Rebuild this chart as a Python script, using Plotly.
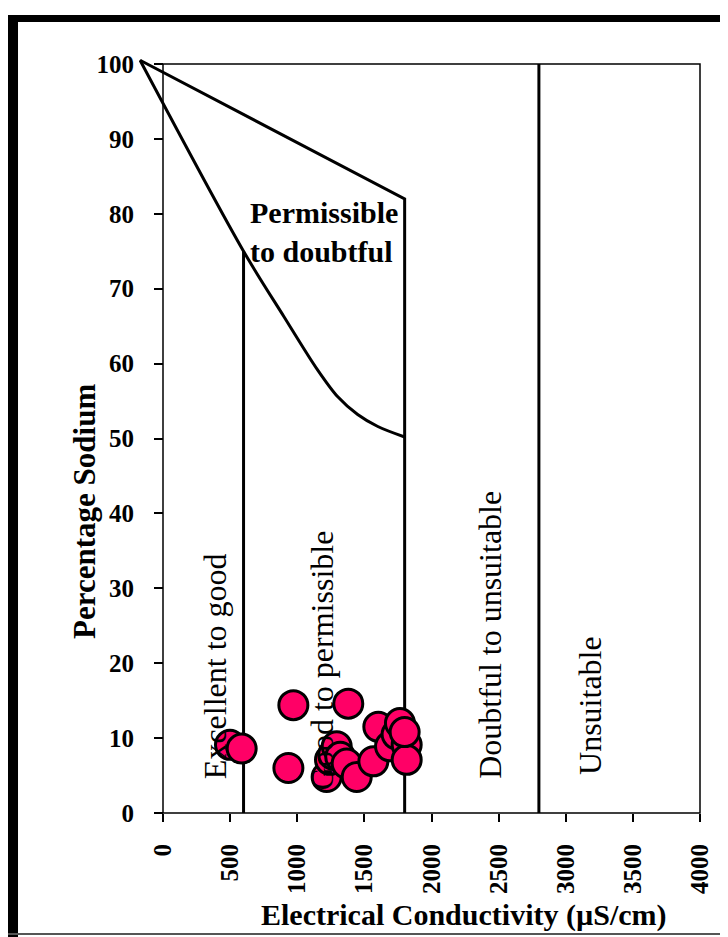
import plotly.graph_objects as go

# ---- data ----
ec_values = [499, 586, 934, 971, 1219, 1244, 1268, 1294, 1320, 1368, 1380, 1443,
             1567, 1604, 1691, 1740, 1765, 1815, 1815, 1800]
na_percent = [9.1, 8.6, 6.0, 14.4, 4.8, 7.1, 7.8, 8.9, 7.5, 6.6, 14.6, 4.8,
              6.9, 11.5, 8.9, 10.5, 12.0, 9.1, 7.1, 10.8]

upper_x = [-171, 1800, 1800]
upper_y = [100.5, 82, 0]
lower_x = [-171, 600, 900, 1150, 1300, 1450, 1600, 1800]
lower_y = [100.5, 75, 66.3, 59.2, 55.6, 53.2, 51.6, 50.2]
v600_x = [600, 600]
v600_y = [75, 0]
v2800_x = [2800, 2800]
v2800_y = [0, 100]

x_ticks = [0, 500, 1000, 1500, 2000, 2500, 3000, 3500, 4000]
y_ticks = [0, 10, 20, 30, 40, 50, 60, 70, 80, 90, 100]

region_labels = ["Excellent to good", "Good to permissible", "Doubtful to unsuitable", "Unsuitable"]
region_x = [387, 1184, 2436, 3181]
region_y = [19.6, 20.4, 23.8, 14.3]

SERIF = "Liberation Serif"

fig = go.Figure()
line_style = dict(color="black", width=3)
fig.add_trace(go.Scatter(x=upper_x, y=upper_y, mode="lines", line=line_style, hoverinfo="skip"))
fig.add_trace(go.Scatter(x=lower_x, y=lower_y, mode="lines",
                         line=dict(color="black", width=3, shape="spline", smoothing=0.9),
                         hoverinfo="skip"))
fig.add_trace(go.Scatter(x=v600_x, y=v600_y, mode="lines", line=line_style, hoverinfo="skip"))
fig.add_trace(go.Scatter(x=v2800_x, y=v2800_y, mode="lines", line=line_style, hoverinfo="skip"))

fig.add_trace(go.Scatter(
    x=ec_values, y=na_percent, mode="markers",
    marker=dict(size=29, color="#FF0066", line=dict(color="black", width=3)),
    cliponaxis=False,
))

# plot-area frame
fig.add_shape(type="rect", xref="x", yref="y", x0=0, x1=4000, y0=0, y1=100,
              line=dict(color="black", width=1.5), layer="below")

# region labels
for txt, xx, yy in zip(region_labels, region_x, region_y):
    fig.add_annotation(x=xx, y=yy, xref="x", yref="y", text=txt, textangle=-90,
                       showarrow=False, xanchor="center", yanchor="middle",
                       font=dict(family=SERIF, size=32, color="black"))

fig.add_annotation(x=633, y=77.6, xref="x", yref="y",
                   text="<b>Permissible<br>to doubtful</b>", showarrow=False,
                   xanchor="left", yanchor="middle", align="left",
                   font=dict(family=SERIF, size=30, color="black"))

# axis titles
fig.add_annotation(x=0.578, y=-0.129, xref="paper", yref="paper",
                   text="<b>Electrical Conductivity (µS/cm)</b>", showarrow=False,
                   xanchor="center", yanchor="middle",
                   font=dict(family=SERIF, size=30, color="black"))
fig.add_annotation(x=-0.098, y=0.402, xref="paper", yref="paper",
                   text="<b>Percentage Sodium</b>", showarrow=False, textangle=-90,
                   xanchor="center", yanchor="middle",
                   font=dict(family=SERIF, size=31, color="black"))

# picture border decorations
fig.add_shape(type="rect", xref="paper", yref="paper", x0=-0.2345, x1=-0.2149,
              y0=-0.16, y1=1.0539, fillcolor="black", line=dict(width=0))
fig.add_shape(type="rect", xref="paper", yref="paper", x0=-0.2345, x1=1.05,
              y0=1.0447, y1=1.0539, fillcolor="black", line=dict(width=0))
fig.add_shape(type="line", xref="paper", yref="paper", x0=-0.2345, x1=1.05,
              y0=-0.1537, y1=-0.1537, line=dict(color="#555555", width=2))

tick_font = dict(family=SERIF, size=25, color="black")
fig.update_layout(
    width=720, height=929,
    margin=dict(l=131, r=26, t=48, b=120),
    paper_bgcolor="white", plot_bgcolor="white",
    showlegend=False, hovermode=False,
    xaxis=dict(range=[-178.8, 4014.9], tickvals=x_ticks, ticktext=[f"<b>{v}</b>" for v in x_ticks],
               tickangle=-90, ticks="outside", ticklen=8, tickwidth=1.5, tickcolor="black",
               showgrid=False, zeroline=False, showline=False,
               anchor="free", position=0.00526, tickfont=tick_font, ticklabelstandoff=12),
    yaxis=dict(range=[-0.534, 101.07], tickvals=y_ticks, ticktext=[f"<b>{v}</b>" for v in y_ticks],
               ticks="outside", ticklen=9, tickwidth=1.5, tickcolor="black",
               showgrid=False, zeroline=False, showline=False,
               anchor="free", position=0.04263, tickfont=tick_font, ticklabelstandoff=15),
)

fig.write_html("out.html")
